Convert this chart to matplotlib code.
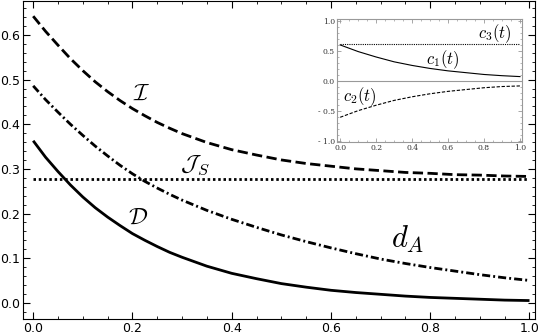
import numpy as np
import matplotlib
matplotlib.use("Agg")
from matplotlib import pyplot as plt
from matplotlib.ticker import MultipleLocator, FixedLocator

plt.rcParams['mathtext.fontset'] = 'cm'

# main panel: values (denser near t = 0 where curves bend)
t = [0.000, 0.025, 0.050, 0.075, 0.100, 0.125, 0.150, 0.175, 0.200, 0.225, 0.250,
     0.275, 0.300, 0.350, 0.400, 0.450, 0.500, 0.550, 0.600, 0.650, 0.700,
     0.750, 0.800, 0.850, 0.900, 0.950, 1.000]
info_I = [0.642, 0.608, 0.577, 0.547, 0.520, 0.495, 0.473, 0.453, 0.435, 0.419, 0.404,
          0.391, 0.379, 0.359, 0.343, 0.331, 0.320, 0.312, 0.306, 0.300, 0.296,
          0.292, 0.290, 0.287, 0.286, 0.284, 0.283]
dist_A = [0.486, 0.455, 0.427, 0.400, 0.375, 0.351, 0.329, 0.308, 0.289, 0.272, 0.257,
          0.243, 0.230, 0.207, 0.187, 0.169, 0.152, 0.137, 0.123, 0.110, 0.098,
          0.088, 0.079, 0.071, 0.063, 0.056, 0.050]
disc_D = [0.363, 0.326, 0.294, 0.264, 0.237, 0.213, 0.192, 0.173, 0.155, 0.140, 0.126,
          0.113, 0.102, 0.082, 0.066, 0.054, 0.043, 0.035, 0.028, 0.023, 0.019,
          0.015, 0.012, 0.010, 0.008, 0.006, 0.005]
js_t = [0.0, 1.0]
js_S = [0.278, 0.278]

# inset: coefficients c1, c2, c3
ti = [0.0, 0.1, 0.2, 0.3, 0.4, 0.5, 0.6, 0.7, 0.8, 0.9, 1.0]
c1 = [0.60, 0.49, 0.40, 0.32, 0.26, 0.21, 0.17, 0.14, 0.11, 0.09, 0.075]
c2 = [-0.60, -0.49, -0.40, -0.32, -0.26, -0.21, -0.17, -0.14, -0.11, -0.09, -0.08]
c3_t = [0.0, 1.0]
c3 = [0.61, 0.61]
inset_yticks = [-1.0, -0.5, 0.0, 0.5, 1.0]
inset_ylabels = ['- 1.0', '- 0.5', '0.0', '0.5', '1.0']


fig = plt.figure(figsize=(5.42, 3.36), dpi=100)
ax = fig.add_axes([0.042, 0.051, 0.945, 0.946])

ax.plot(t, disc_D, color='black', lw=2.0, solid_capstyle='butt')
ax.plot(t, info_I, color='black', lw=2.0, linestyle='--')
ax.plot(t, dist_A, color='black', lw=2.0, dashes=(2.9, 1.1, 0.7, 1.1))
ax.plot(js_t, js_S, color='black', lw=2.0, dashes=(0.9, 1.0))

ax.set_xlim(-0.021, 1.011)
ax.set_ylim(-0.036, 0.676)
ax.xaxis.set_major_locator(MultipleLocator(0.2))
ax.xaxis.set_minor_locator(MultipleLocator(0.05))
ax.yaxis.set_major_locator(MultipleLocator(0.1))
ax.yaxis.set_minor_locator(MultipleLocator(0.02))
ax.tick_params(which='both', direction='in', top=True, right=True, labelsize=9)
ax.tick_params(which='major', length=5)
ax.tick_params(which='minor', length=2.5)
ax.tick_params(axis='x', pad=2)
ax.tick_params(axis='y', pad=2)

ax.text(0.218, 0.47, r'$\mathcal{I}$', fontsize=17, ha='center', va='center')
ax.text(0.326, 0.309, r'$\mathcal{J}_S$', fontsize=17, ha='center', va='center')
ax.text(0.211, 0.193, r'$\mathcal{D}$', fontsize=17, ha='center', va='center')
ax.text(0.755, 0.141, r'$d_A$', fontsize=22, ha='center', va='center')

# inset
ins = fig.add_axes([0.622, 0.5774, 0.341, 0.366])
ins.axhline(0, color='#999999', lw=0.8)
ins.plot(ti, c1, color='black', lw=0.8)
ins.plot(ti, c2, color='black', lw=0.8, dashes=(3, 1.5))
ins.plot(c3_t, c3, color='black', lw=0.8, dashes=(1, 1))
ins.set_xlim(-0.017, 1.011)
ins.set_ylim(-1.01, 1.03)
ins.xaxis.set_major_locator(MultipleLocator(0.2))
ins.xaxis.set_minor_locator(MultipleLocator(0.05))
ins.yaxis.set_major_locator(FixedLocator(inset_yticks))
ins.yaxis.set_minor_locator(MultipleLocator(0.1))
ins.set_yticklabels(inset_ylabels)
ins.set_xticklabels(['%.1f' % v for v in ins.get_xticks()])
for s in ins.spines.values():
    s.set_color('#999999')
    s.set_linewidth(0.8)
ins.tick_params(which='both', direction='in', top=True, right=True, color='#999999',
                labelsize=5.5, labelcolor='#333333', pad=1.5)
ins.tick_params(which='major', length=3, width=0.6)
ins.tick_params(which='minor', length=1.5, width=0.5)
for lab in ins.get_xticklabels() + ins.get_yticklabels():
    lab.set_family('DejaVu Serif')

ins.text(0.86, 0.79, r'$c_3(t)$', fontsize=12, ha='center', va='center')
ins.text(0.57, 0.35, r'$c_1(t)$', fontsize=12, ha='center', va='center')
ins.text(0.11, -0.26, r'$c_2(t)$', fontsize=12, ha='center', va='center')

fig.savefig('out.png', dpi=100)
